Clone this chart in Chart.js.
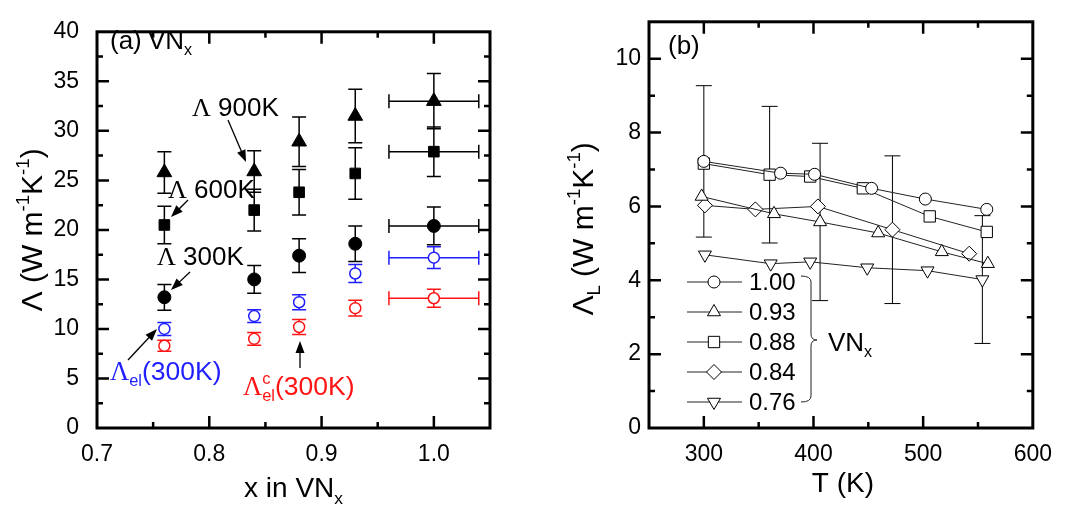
<!DOCTYPE html>
<html>
<head>
<meta charset="utf-8">
<script src="https://cdn.jsdelivr.net/npm/chart.js@4.4.1/dist/chart.umd.min.js"></script>
<style>
  body { margin: 0; background: #fff; }
  #wrap { position: relative; width: 1065px; height: 506px; }
  canvas { position: absolute; top: 0; }
</style>
</head>
<body>
<div id="wrap">
  <canvas id="chartA" width="530" height="506" style="left:0"></canvas>
  <canvas id="chartB" width="535" height="506" style="left:530px"></canvas>
</div>
<script>
// pannello (a): conducibilita' vs composizione
const xComp = [0.76, 0.84, 0.88, 0.93, 1.00];
const xCompErr = [0, 0, 0, 0, 0.04];
const lam900 = [25.8, 25.9, 28.9, 31.5, 33.0];
const lam900Err = [2.1, 2.1, 2.5, 2.7, 2.8];
const lam600 = [20.5, 22.0, 23.8, 25.7, 27.9];
const lam600Err = [1.9, 2.1, 2.3, 2.6, 2.5];
const lam300 = [13.2, 15.0, 17.4, 18.6, 20.4];
const lam300Err = [1.3, 1.4, 1.7, 1.8, 1.9];
const lamEl = [10.0, 11.3, 12.7, 15.6, 17.2];
const lamElErr = [0.65, 0.65, 0.75, 0.9, 1.1];
const lamElC = [8.3, 9.0, 10.2, 12.1, 13.1];
const lamElCErr = [0.55, 0.65, 0.75, 0.8, 0.9];

// pannello (b): conducibilita' reticolare vs temperatura
const tX100 = [300, 370, 401, 453, 502, 558];
const lX100 = [7.22, 6.9, 6.87, 6.49, 6.2, 5.92];
const eX100 = [2.05, 0, 0, 0, 0, 0];
const tX093 = [298, 364, 406, 459, 517, 559];
const lX093 = [6.27, 5.8, 5.58, 5.28, 4.77, 4.45];
const eX093 = [0, 0, 2.13, 0, 0, 0];
const tX088 = [300, 360, 397, 445, 506, 558];
const lX088 = [7.16, 6.86, 6.81, 6.49, 5.73, 5.31];
const eX088 = [0, 1.85, 0, 0, 0, 0];
const tX084 = [301, 347, 404, 472, 542];
const lX084 = [6.03, 5.92, 6.0, 5.37, 4.72];
const eX084 = [0, 0, 0, 2.0, 0];
const tX076 = [301, 361, 397, 449, 504, 554];
const lX076 = [4.69, 4.45, 4.5, 4.34, 4.26, 4.02];
const eX076 = [0, 0, 0, 0, 0, 1.73];
const legendLabels = ['1.00', '0.93', '0.88', '0.84', '0.76'];

const SANS = '"Liberation Sans", Arial, sans-serif';
const SERIF = '"Liberation Serif", "Times New Roman", serif';
const BLUE = 'rgb(30,30,255)';
const RED = 'rgb(255,20,20)';

const pts = (xs, ys) => xs.map((x, i) => ({ x: x, y: ys[i] }));

// testo con pedici / apici: parti = [testo, modo, famiglia, noAdvance]
function rich(ctx, parts, x, y, size, align) {
  const pieces = parts.map(p => {
    const mode = p[1] || '';
    const fs = mode ? size * 0.62 : size;
    const font = fs + 'px ' + (p[2] || SANS);
    ctx.font = font;
    return { t: p[0], mode: mode, font: font, w: ctx.measureText(p[0]).width, noAdv: !!p[3] };
  });
  const total = pieces.reduce((s, p) => s + (p.noAdv ? 0 : p.w), 0);
  let cx = align === 'center' ? x - total / 2 : (align === 'right' ? x - total : x);
  ctx.textAlign = 'left';
  ctx.textBaseline = 'alphabetic';
  pieces.forEach(p => {
    ctx.font = p.font;
    let dy = 0;
    if (p.mode === 'sup') dy = -size * 0.42;
    if (p.mode === 'sub') dy = size * 0.24;
    ctx.fillText(p.t, cx, y + dy);
    if (!p.noAdv) cx += p.w;
  });
}

function arrow(ctx, x1, y1, x2, y2) {
  const a = Math.atan2(y2 - y1, x2 - x1), hl = 12, hw = 4.5;
  ctx.beginPath();
  ctx.moveTo(x1, y1);
  ctx.lineTo(x2 - Math.cos(a) * hl * 0.8, y2 - Math.sin(a) * hl * 0.8);
  ctx.stroke();
  ctx.beginPath();
  ctx.moveTo(x2, y2);
  ctx.lineTo(x2 - hl * Math.cos(a) + hw * Math.sin(a), y2 - hl * Math.sin(a) - hw * Math.cos(a));
  ctx.lineTo(x2 - hl * Math.cos(a) - hw * Math.sin(a), y2 - hl * Math.sin(a) + hw * Math.cos(a));
  ctx.closePath();
  ctx.fill();
}

// cornice e tacche interne su tutti i lati
const framePlugin = {
  id: 'frame',
  afterDraw(chart, args, opts) {
    const { ctx, chartArea: a, scales } = chart;
    ctx.save();
    ctx.strokeStyle = '#000';
    ctx.lineWidth = 3;
    ctx.strokeRect(a.left, a.top, a.right - a.left, a.bottom - a.top);
    ctx.lineWidth = 2.5;
    const marks = (scale, major, minor, horiz) => {
      const n = Math.round((scale.max - scale.min) / minor);
      for (let k = 1; k < n; k++) {
        const v = scale.min + k * minor;
        const isMajor = Math.abs(v / major - Math.round(v / major)) < 1e-6;
        const len = isMajor ? 12 : 6;
        const p = scale.getPixelForValue(v);
        ctx.beginPath();
        if (horiz) {
          ctx.moveTo(p, a.bottom); ctx.lineTo(p, a.bottom - len);
          ctx.moveTo(p, a.top); ctx.lineTo(p, a.top + len);
        } else {
          ctx.moveTo(a.left, p); ctx.lineTo(a.left + len, p);
          ctx.moveTo(a.right, p); ctx.lineTo(a.right - len, p);
        }
        ctx.stroke();
      }
    };
    marks(scales.x, opts.xMajor, opts.xMinor, true);
    marks(scales.y, opts.yMajor, opts.yMinor, false);
    ctx.restore();
  }
};

const errorBarPlugin = {
  id: 'errorBars',
  beforeDatasetsDraw(chart) {
    const { ctx, scales: { x, y } } = chart;
    chart.data.datasets.forEach(ds => {
      ctx.save();
      ctx.strokeStyle = ds.errColor || '#000';
      ctx.lineWidth = ds.errWidth || 1.5;
      const cap = ds.capHalf || 7;
      ds.data.forEach((p, i) => {
        const px = x.getPixelForValue(p.x), py = y.getPixelForValue(p.y);
        const ey = ds.yErr ? ds.yErr[i] : 0;
        if (ey) {
          const t = y.getPixelForValue(p.y + ey), b = y.getPixelForValue(p.y - ey);
          ctx.beginPath();
          ctx.moveTo(px, t); ctx.lineTo(px, b);
          ctx.moveTo(px - cap, t); ctx.lineTo(px + cap, t);
          ctx.moveTo(px - cap, b); ctx.lineTo(px + cap, b);
          ctx.stroke();
        }
        const ex = ds.xErr ? ds.xErr[i] : 0;
        if (ex) {
          const l = x.getPixelForValue(p.x - ex), r = x.getPixelForValue(p.x + ex);
          ctx.beginPath();
          ctx.moveTo(l, py); ctx.lineTo(r, py);
          ctx.moveTo(l, py - cap); ctx.lineTo(l, py + cap);
          ctx.moveTo(r, py - cap); ctx.lineTo(r, py + cap);
          ctx.stroke();
        }
      });
      ctx.restore();
    });
  }
};

function axisOpts(min, max, step, padding, fitFn, fmt) {
  return {
    type: 'linear', min: min, max: max,
    grid: { display: false, drawTicks: false },
    border: { display: false },
    ticks: {
      stepSize: step, includeBounds: false, autoSkip: false, maxRotation: 0,
      padding: padding, color: '#000',
      font: { family: SANS, size: 23 },
      callback: fmt
    },
    afterFit: fitFn
  };
}

// ---------- pannello (a) ----------
const notesA = {
  id: 'notesA',
  afterDraw(chart) {
    const ctx = chart.ctx, a = chart.chartArea;
    ctx.save();
    ctx.fillStyle = '#000';
    ctx.strokeStyle = '#000';
    ctx.lineWidth = 1.3;
    rich(ctx, [['(a)']], 110, 49, 26, 'left');
    rich(ctx, [['VN'], ['x', 'sub']], 148, 49, 26, 'left');
    rich(ctx, [['\u039B', '', SERIF], [' 900K']], 192, 116, 26, 'left');
    arrow(ctx, 228, 120, 246, 162);
    rich(ctx, [['\u039B', '', SERIF], [' 600K']], 168, 198, 26, 'left');
    arrow(ctx, 188, 200, 171, 217);
    rich(ctx, [['\u039B', '', SERIF], [' 300K']], 157, 265, 26, 'left');
    arrow(ctx, 190, 272, 171, 290);
    arrow(ctx, 128, 360, 157, 329);
    arrow(ctx, 300, 368, 300, 341);
    ctx.fillStyle = BLUE;
    rich(ctx, [['\u039B', '', SERIF], ['el', 'sub'], ['(300K)']], 110, 380, 26.5, 'left');
    ctx.fillStyle = RED;
    rich(ctx, [['\u039B', '', SERIF], ['c', 'sup', SANS, true], ['el', 'sub'], ['(300K)']], 243, 395, 26.5, 'left');
    ctx.fillStyle = '#000';
    rich(ctx, [['x in VN'], ['x', 'sub']], (a.left + a.right) / 2, 497, 28, 'center');
    ctx.translate(42, (a.top + a.bottom) / 2);
    ctx.rotate(-Math.PI / 2);
    rich(ctx, [['\u039B (W m'], ['-1', 'sup'], ['K'], ['-1', 'sup'], [')']], 0, 0, 30, 'center');
    ctx.restore();
  }
};

new Chart(document.getElementById('chartA'), {
  type: 'scatter',
  data: {
    datasets: [
      { data: pts(xComp, lamEl), yErr: lamElErr, xErr: xCompErr, errColor: BLUE,
        pointStyle: 'circle', pointRadius: 5.5, pointBorderWidth: 1.5,
        pointBorderColor: BLUE, pointBackgroundColor: '#fff' },
      { data: pts(xComp, lamElC), yErr: lamElCErr, xErr: xCompErr, errColor: RED,
        pointStyle: 'circle', pointRadius: 5.5, pointBorderWidth: 1.5,
        pointBorderColor: RED, pointBackgroundColor: '#fff' },
      { data: pts(xComp, lam300), yErr: lam300Err, xErr: xCompErr,
        pointStyle: 'circle', pointRadius: 6.5, pointBorderWidth: 1,
        pointBorderColor: '#000', pointBackgroundColor: '#000' },
      { data: pts(xComp, lam600), yErr: lam600Err, xErr: xCompErr,
        pointStyle: 'rect', pointRadius: 7.5, pointBorderWidth: 1,
        pointBorderColor: '#000', pointBackgroundColor: '#000' },
      { data: pts(xComp, lam900), yErr: lam900Err, xErr: xCompErr,
        pointStyle: 'triangle', pointRadius: 8.5, pointBorderWidth: 1,
        pointBorderColor: '#000', pointBackgroundColor: '#000' }
    ]
  },
  options: {
    responsive: false,
    animation: false,
    layout: { padding: { left: 0, right: 40, top: 16, bottom: 0 } },
    plugins: {
      legend: { display: false },
      tooltip: { enabled: false },
      frame: { xMajor: 0.1, xMinor: 0.05, yMajor: 5, yMinor: 2.5 }
    },
    scales: {
      x: axisOpts(0.7, 1.05, 0.1, 13, s => { s.height = 78; }, v => v.toFixed(1)),
      y: axisOpts(0, 40, 5, 18, s => { s.width = 97; }, v => String(v))
    }
  },
  plugins: [errorBarPlugin, framePlugin, notesA]
});

// ---------- pannello (b) ----------
const seriesB = [
  { t: tX100, l: lX100, e: eX100, style: 'circle', r: 6, rot: 0 },
  { t: tX093, l: lX093, e: eX093, style: 'triangle', r: 7.5, rot: 0 },
  { t: tX088, l: lX088, e: eX088, style: 'rect', r: 8, rot: 0 },
  { t: tX084, l: lX084, e: eX084, style: 'rectRot', r: 7.5, rot: 0 },
  { t: tX076, l: lX076, e: eX076, style: 'triangle', r: 7.5, rot: 180 }
];

const notesB = {
  id: 'notesB',
  afterDraw(chart) {
    const ctx = chart.ctx, a = chart.chartArea;
    ctx.save();
    ctx.fillStyle = '#000';
    ctx.strokeStyle = '#000';
    rich(ctx, [['(b)']], 138, 54, 26, 'left');
    // legenda interna
    chart.data.datasets.forEach((ds, i) => {
      const yy = 282 + i * 30;
      ctx.strokeStyle = '#222';
      ctx.lineWidth = 1;
      ctx.beginPath();
      ctx.moveTo(157, yy); ctx.lineTo(212, yy);
      ctx.stroke();
      ctx.fillStyle = '#fff';
      ctx.strokeStyle = '#000';
      Chart.helpers.drawPoint(ctx, {
        pointStyle: ds.pointStyle, radius: ds.pointRadius,
        rotation: ds.pointRotation || 0, borderWidth: 1
      }, 184, yy);
      ctx.fillStyle = '#000';
      ctx.font = '24px ' + SANS;
      ctx.textAlign = 'left';
      ctx.textBaseline = 'middle';
      ctx.fillText(legendLabels[i], 219, yy + 1);
    });
    // graffa
    ctx.strokeStyle = '#222';
    ctx.lineWidth = 1;
    ctx.beginPath();
    ctx.moveTo(271, 276);
    ctx.quadraticCurveTo(281, 276, 281, 282);
    ctx.lineTo(281, 334);
    ctx.quadraticCurveTo(281, 340, 287, 340);
    ctx.quadraticCurveTo(281, 340, 281, 346);
    ctx.lineTo(281, 396);
    ctx.quadraticCurveTo(281, 402, 271, 402);
    ctx.stroke();
    ctx.fillStyle = '#000';
    rich(ctx, [['VN'], ['x', 'sub']], 298, 351, 26, 'left');
    // titoli assi
    rich(ctx, [['T (K)']], (a.left + a.right) / 2 + 2, 492, 28, 'center');
    ctx.translate(63, (a.top + a.bottom) / 2 + 4);
    ctx.rotate(-Math.PI / 2);
    rich(ctx, [['\u039B'], ['L', 'sub'], [' (W m'], ['-1', 'sup'], ['K'], ['-1', 'sup'], [')']], 0, 0, 30, 'center');
    ctx.restore();
  }
};

new Chart(document.getElementById('chartB'), {
  type: 'scatter',
  data: {
    datasets: seriesB.map(s => ({
      data: pts(s.t, s.l), yErr: s.e, errWidth: 1, capHalf: 8,
      showLine: true, borderColor: '#222', borderWidth: 1,
      pointStyle: s.style, pointRadius: s.r, pointRotation: s.rot,
      pointBorderWidth: 1, pointBorderColor: '#000', pointBackgroundColor: '#fff'
    }))
  },
  options: {
    responsive: false,
    animation: false,
    layout: { padding: { left: 0, right: 22, top: 16, bottom: 0 } },
    plugins: {
      legend: { display: false },
      tooltip: { enabled: false },
      frame: { xMajor: 100, xMinor: 50, yMajor: 2, yMinor: 1 }
    },
    scales: {
      x: axisOpts(250, 600, 100, 13, s => { s.height = 78; }, v => String(v)),
      y: axisOpts(0, 11, 2, 8, s => { s.width = 119; }, v => String(v))
    }
  },
  plugins: [errorBarPlugin, framePlugin, notesB]
});
</script>
</body>
</html>
